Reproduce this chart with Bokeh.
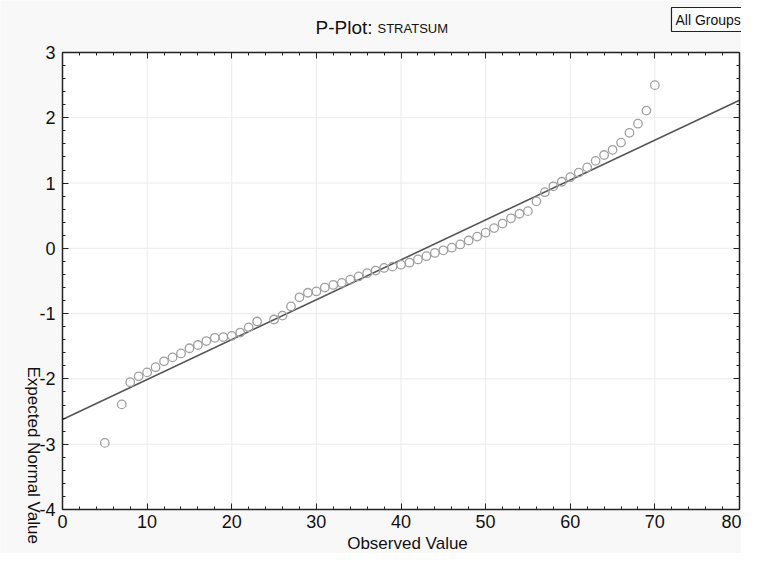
import math
from bokeh.plotting import figure
from bokeh.models import Range1d, FixedTicker, LinearAxis, Label
from bokeh.embed import file_html
from bokeh.resources import INLINE

# ---- data ----
observed = [5, 7, 8, 9, 10, 11, 12, 13, 14, 15, 16, 17, 18, 19, 20, 21, 22, 23,
            25, 26, 27, 28, 29, 30, 31, 32, 33, 34, 35, 36, 37, 38, 39, 40, 41,
            42, 43, 44, 45, 46, 47, 48, 49, 50, 51, 52, 53, 54, 55, 56, 57, 58,
            59, 60, 61, 62, 63, 64, 65, 66, 67, 68, 69, 70]
expected = [-2.98, -2.39, -2.05, -1.96, -1.90, -1.82, -1.73, -1.67, -1.61, -1.53,
            -1.48, -1.42, -1.37, -1.36, -1.34, -1.29, -1.21, -1.12,
            -1.09, -1.03, -0.89, -0.75, -0.68, -0.66, -0.60, -0.56, -0.53, -0.48,
            -0.43, -0.38, -0.34, -0.30, -0.28, -0.25, -0.22,
            -0.17, -0.12, -0.07, -0.03, 0.01, 0.06, 0.12, 0.18, 0.24, 0.31, 0.38,
            0.46, 0.53, 0.57, 0.72, 0.86, 0.95,
            1.02, 1.09, 1.16, 1.24, 1.34, 1.43, 1.51, 1.62, 1.77, 1.91, 2.11, 2.50]
fit_intercept = -2.62
fit_slope = 0.0611

x_min, x_max = 0, 80
y_min, y_max = -4, 3
x_ticks = [0, 10, 20, 30, 40, 50, 60, 70, 80]
y_ticks = [-4, -3, -2, -1, 0, 1, 2, 3]
x_minor = [i * 2 for i in range(41)]
y_minor = [round(-4 + i * 0.2, 1) for i in range(36)]

title_main = "P-Plot:"
title_var = "STRATSUM"
x_label = "Observed Value"
y_label = "Expected Normal Value"
group_label = "All Groups"

fit_x = [x_min, x_max]
fit_y = [fit_intercept + fit_slope * v for v in fit_x]

FONT = "Liberation Sans"
AX = "#222222"
TXT = "#111111"

# ---- layout (pixels inside the figure) ----
W, H = 741, 553
BOX_L, BOX_R, BOX_T, BOX_B = 62, 739, 52, 509
px_x = (BOX_R - BOX_L) / (x_max - x_min)
px_y = (BOX_B - BOX_T) / (y_max - y_min)

def dx(fx):
    return x_min + (fx - BOX_L) / px_x

def dy(fy):
    return y_max - (fy - BOX_T) / px_y

p = figure(width=W, height=H, output_backend="svg", toolbar_location=None,
           x_axis_type=None, y_axis_type=None,
           x_range=Range1d(dx(0), dx(W)), y_range=Range1d(dy(H), dy(0)),
           min_border=0)
p.background_fill_color = "#f8f8f8"
p.border_fill_color = "#f8f8f8"
p.outline_line_color = None

# white plotting box
p.quad(left=[x_min], right=[x_max], bottom=[y_min], top=[y_max],
       fill_color="white", line_color=None)

# faint grid at major ticks
p.segment(x0=x_ticks, x1=x_ticks, y0=[y_min] * len(x_ticks), y1=[y_max] * len(x_ticks),
          line_color="#ebebeb", line_width=1)
p.segment(x0=[x_min] * len(y_ticks), x1=[x_max] * len(y_ticks), y0=y_ticks, y1=y_ticks,
          line_color="#ebebeb", line_width=1)

def mk_axis(ticks, minor, loc, bounds, labels):
    ax = LinearAxis(ticker=FixedTicker(ticks=ticks, minor_ticks=minor),
                    fixed_location=loc, bounds=bounds)
    ax.axis_line_color = AX
    ax.axis_line_width = 1.5
    ax.major_tick_line_color = AX
    ax.minor_tick_line_color = AX
    ax.major_tick_in = 6
    ax.major_tick_out = 0
    ax.minor_tick_in = 3
    ax.minor_tick_out = 0
    ax.major_label_text_font = FONT
    ax.major_label_text_font_size = "18px"
    ax.major_label_text_color = TXT
    ax.major_label_overrides = {t: str(t) for t in ticks}
    if not labels:
        ax.major_label_text_alpha = 0
    return ax

bottom = mk_axis(x_ticks, x_minor, y_min, (x_min, x_max), True)
bottom.major_label_standoff = 5
top = mk_axis(x_ticks, x_minor, y_max, (x_min, x_max), False)
left = mk_axis(y_ticks, y_minor, x_min, (y_min, y_max), True)
left.major_label_standoff = 7
right = mk_axis(y_ticks, y_minor, x_max, (y_min, y_max), False)
p.add_layout(bottom, "below")
p.add_layout(top, "above")
p.add_layout(left, "left")
p.add_layout(right, "right")

p.line(fit_x, fit_y, line_color="#555555", line_width=1.6)
p.scatter(observed, expected, marker="circle", size=8.5, fill_color=None,
          line_color="#a0a0a0", line_width=1.3)

p.add_layout(Label(x=dx(372), y=dy(27), text=title_main, text_font=FONT,
                   text_font_size="19px", text_align="right",
                   text_baseline="middle", text_color=TXT))
p.add_layout(Label(x=dx(377), y=dy(28), text=title_var, text_font=FONT,
                   text_font_size="13px", text_align="left",
                   text_baseline="middle", text_color=TXT))
p.add_layout(Label(x=dx(407), y=dy(543), text=x_label, text_font=FONT,
                   text_font_size="17px", text_align="center",
                   text_baseline="middle", text_color=TXT))
p.add_layout(Label(x=dx(33), y=dy(366), text=y_label, text_font=FONT,
                   text_font_size="17px", text_align="left",
                   text_baseline="middle", angle=-math.pi / 2,
                   text_color=TXT))
p.add_layout(Label(x=dx(671), y=dy(19), text=group_label, text_font=FONT,
                   text_font_size="14px", text_align="left",
                   text_baseline="middle", text_color=TXT,
                   border_line_color=AX, border_line_width=1.2,
                   background_fill_color="white", padding=4))

open("out.html", "w").write(file_html(p, INLINE))
